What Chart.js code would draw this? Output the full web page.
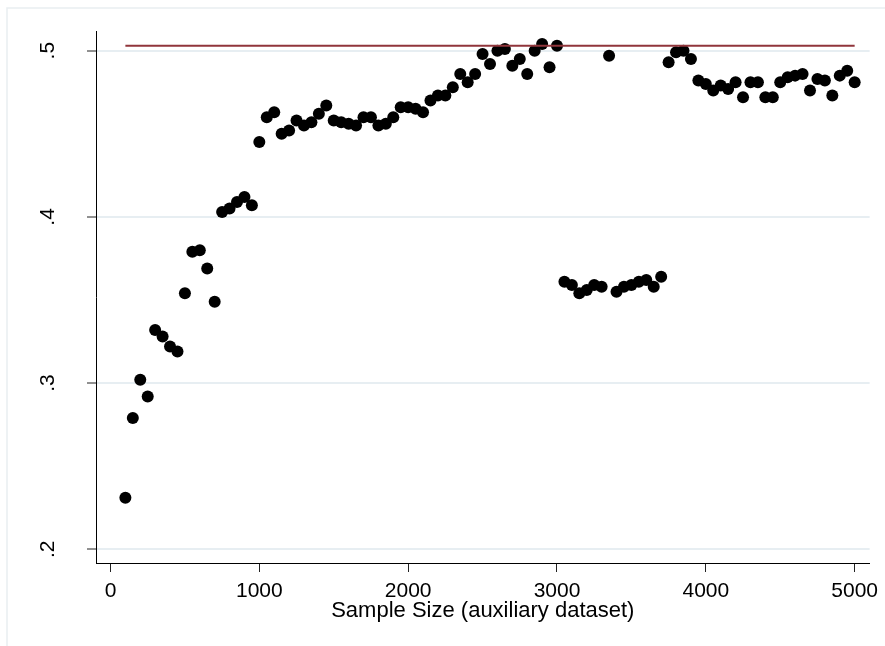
<!DOCTYPE html>
<html>
<head>
<meta charset="utf-8">
<script src="https://cdn.jsdelivr.net/npm/chart.js@4.4.1/dist/chart.umd.min.js"></script>
<style>
  html, body { margin: 0; padding: 0; background: #fff; }
  #wrap { width: 885px; height: 646px; position: relative; }
</style>
</head>
<body>
<div id="wrap"><canvas id="chart"></canvas></div>
<script>
// auxiliary sample sizes
const sampleSizes = [
  100, 150, 200, 250, 300, 350, 400, 450, 500, 550,
  600, 650, 700, 750, 800, 850, 900, 950, 1000, 1050,
  1100, 1150, 1200, 1250, 1300, 1350, 1400, 1450, 1500, 1550,
  1600, 1650, 1700, 1750, 1800, 1850, 1900, 1950, 2000, 2050,
  2100, 2150, 2200, 2250, 2300, 2350, 2400, 2450, 2500, 2550,
  2600, 2650, 2700, 2750, 2800, 2850, 2900, 2950, 3000, 3050,
  3100, 3150, 3200, 3250, 3300, 3350, 3400, 3450, 3500, 3550,
  3600, 3650, 3700, 3750, 3800, 3850, 3900, 3950, 4000, 4050,
  4100, 4150, 4200, 4250, 4300, 4350, 4400, 4450, 4500, 4550,
  4600, 4650, 4700, 4750, 4800, 4850, 4900, 4950, 5000
];

// estimate at each sample size
const estimates = [
  0.231, 0.279, 0.302, 0.292, 0.332, 0.328, 0.322, 0.319, 0.354, 0.379,
  0.380, 0.369, 0.349, 0.403, 0.405, 0.409, 0.412, 0.407, 0.445, 0.460,
  0.463, 0.450, 0.452, 0.458, 0.455, 0.457, 0.462, 0.467, 0.458, 0.457,
  0.456, 0.455, 0.460, 0.460, 0.455, 0.456, 0.460, 0.466, 0.466, 0.465,
  0.463, 0.470, 0.473, 0.473, 0.478, 0.486, 0.481, 0.486, 0.498, 0.492,
  0.500, 0.501, 0.491, 0.495, 0.486, 0.500, 0.504, 0.490, 0.503, 0.361,
  0.359, 0.354, 0.356, 0.359, 0.358, 0.497, 0.355, 0.358, 0.359, 0.361,
  0.362, 0.358, 0.364, 0.493, 0.499, 0.500, 0.495, 0.482, 0.480, 0.476,
  0.479, 0.477, 0.481, 0.472, 0.481, 0.481, 0.472, 0.472, 0.481, 0.484,
  0.485, 0.486, 0.476, 0.483, 0.482, 0.473, 0.485, 0.488, 0.481
];

// reference level and its span
const referenceValue = 0.503;
const referenceSpan = [100, 5000];

const xTicks = [0, 1000, 2000, 3000, 4000, 5000];
const yTicks = [0.2, 0.3, 0.4, 0.5];

const FONT = "'Liberation Sans', Arial, sans-serif";

// light frame round the graph region
const framePlugin = {
  id: 'frame',
  beforeDraw(chart) {
    const ctx = chart.ctx;
    ctx.save();
    ctx.fillStyle = '#fff';
    ctx.fillRect(0, 0, chart.width, chart.height);
    ctx.strokeStyle = '#e9eef1';
    ctx.lineWidth = 1.5;
    ctx.beginPath();
    ctx.moveTo(7, chart.height);
    ctx.lineTo(7, 8);
    ctx.lineTo(chart.width, 8);
    ctx.stroke();
    ctx.restore();
  }
};

// vertical y labels like ".5", read bottom to top
const yLabelPlugin = {
  id: 'yLabels',
  afterDraw(chart) {
    const scale = chart.scales.y;
    const ctx = chart.ctx;
    ctx.save();
    ctx.font = '21px ' + FONT;
    ctx.fillStyle = '#000';
    ctx.textAlign = 'center';
    ctx.textBaseline = 'middle';
    scale.ticks.forEach(t => {
      const y = scale.getPixelForValue(t.value);
      ctx.save();
      ctx.translate(48, y);
      ctx.rotate(-Math.PI / 2);
      ctx.fillText(t.value.toFixed(1).replace(/^0/, ''), 0, 0);
      ctx.restore();
    });
    ctx.restore();
  }
};

const points = sampleSizes.map((s, i) => ({ x: s, y: estimates[i] }));
const refLine = referenceSpan.map(s => ({ x: s, y: referenceValue }));

new Chart(document.getElementById('chart'), {
  type: 'scatter',
  data: {
    datasets: [
      {
        type: 'line',
        data: refLine,
        borderColor: '#90353b',
        borderWidth: 2,
        pointRadius: 0,
        fill: false,
        order: 0
      },
      {
        data: points,
        backgroundColor: '#000',
        borderColor: '#000',
        borderWidth: 0,
        pointRadius: 6,
        order: 1
      }
    ]
  },
  options: {
    responsive: true,
    maintainAspectRatio: false,
    animation: false,
    events: [],
    layout: { padding: { left: 0, top: 31, right: 15, bottom: 0 } },
    plugins: {
      legend: { display: false },
      tooltip: { enabled: false }
    },
    scales: {
      x: {
        type: 'linear',
        min: -97.4,
        max: 5100.7,
        afterBuildTicks: s => { s.ticks = xTicks.map(v => ({ value: v })); },
        afterFit: s => { s.height = 83; },
        grid: {
          color: 'rgba(0,0,0,0)',
          tickColor: '#222',
          tickLength: 9,
          tickWidth: 1
        },
        border: { color: '#000', width: 1 },
        ticks: {
          color: '#000',
          padding: 6.7,
          maxRotation: 0,
          font: { family: FONT, size: 21 },
          callback: v => String(v)
        },
        title: {
          display: true,
          text: 'Sample Size (auxiliary dataset)',
          color: '#000',
          font: { family: FONT, size: 22 },
          padding: { top: 0, bottom: 22.1 }
        }
      },
      y: {
        type: 'linear',
        min: 0.19176,
        max: 0.51185,
        afterBuildTicks: s => { s.ticks = yTicks.map(v => ({ value: v })); },
        afterFit: s => { s.width = 96; },
        grid: {
          color: '#e7eef2',
          lineWidth: 2,
          tickColor: '#222',
          tickLength: 9,
          tickWidth: 1
        },
        border: { color: '#000', width: 1 },
        ticks: { display: false }
      }
    }
  },
  plugins: [framePlugin, yLabelPlugin]
});
</script>
</body>
</html>
